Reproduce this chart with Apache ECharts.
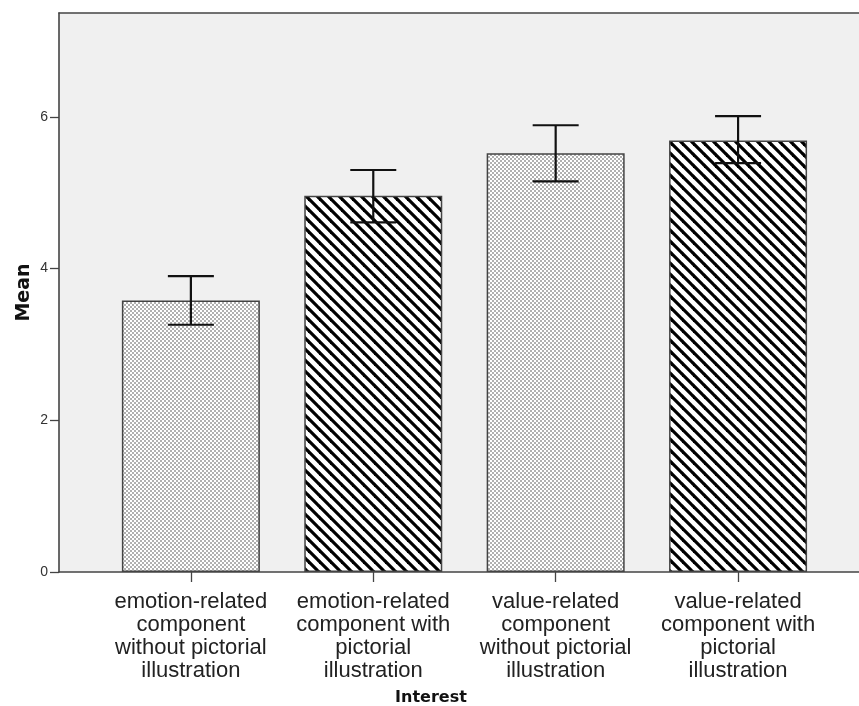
<!DOCTYPE html>
<html>
<head>
<meta charset="utf-8">
<script src="https://cdn.jsdelivr.net/npm/echarts@6/dist/echarts.min.js"></script>
<style>
html,body{margin:0;padding:0;background:#fff;}
#chart{width:859px;height:706px;}
</style>
</head>
<body>
<div id="chart"></div>
<script>
// ---- data ----
var categories = [
  'emotion-related\ncomponent\nwithout pictorial\nillustration',
  'emotion-related\ncomponent with\npictorial\nillustration',
  'value-related\ncomponent\nwithout pictorial\nillustration',
  'value-related\ncomponent with\npictorial\nillustration'
];
var means  = [3.58, 4.96, 5.52, 5.69];
var ciLow  = [3.26, 4.61, 5.15, 5.39];
var ciHigh = [3.90, 5.30, 5.89, 6.01];
var yTicks = [0, 2, 4, 6];
var patternTypes = ['dots', 'stripes', 'dots', 'stripes'];

// ---- patterns ----
function dotPattern() {
  var c = document.createElement('canvas');
  c.width = 4; c.height = 4;
  var g = c.getContext('2d');
  g.fillStyle = '#ffffff'; g.fillRect(0, 0, 4, 4);
  g.fillStyle = '#b0b0b0';
  g.fillRect(0, 0, 2, 2);
  g.fillRect(2, 2, 2, 2);
  return c;
}
function stripePattern() {
  var s = 11;
  var c = document.createElement('canvas');
  c.width = s; c.height = s;
  var g = c.getContext('2d');
  g.fillStyle = '#ffffff'; g.fillRect(0, 0, s, s);
  g.strokeStyle = '#000000';
  g.lineWidth = 3.2;
  [-s, 0, s].forEach(function (k) {
    g.beginPath();
    g.moveTo(k - 1, -1);
    g.lineTo(k + s + 1, s + 1);
    g.stroke();
  });
  return c;
}
var patterns = { dots: dotPattern(), stripes: stripePattern() };

var barData = means.map(function (v, i) {
  return {
    value: [i + 1, v],
    itemStyle: { color: { image: patterns[patternTypes[i]], repeat: 'repeat' } }
  };
});
var errData = means.map(function (v, i) { return [i + 1, ciLow[i], ciHigh[i]]; });

var chart = echarts.init(document.getElementById('chart'), null, { renderer: 'canvas' });
var axisColor = '#444444';
var option = {
  animation: false,
  backgroundColor: '#ffffff',
  grid: {
    left: 59, right: 0, top: 13, bottom: 134,
    outerBoundsMode: 'none',
    containLabel: false,
    show: true, backgroundColor: '#f0f0f0', borderWidth: 0
  },
  xAxis: [{
    type: 'value',
    min: 0.277, max: 4.663,
    splitLine: { show: false },
    axisLine: { show: true, onZero: false, lineStyle: { color: axisColor, width: 1.6 } },
    axisTick: { show: true, length: 10, customValues: [1, 2, 3, 4], lineStyle: { color: axisColor, width: 1.3 } },
    axisLabel: {
      customValues: [1, 2, 3, 4],
      formatter: function (v) { return categories[Math.round(v) - 1] || ''; },
      fontFamily: 'Liberation Sans, Arial, sans-serif',
      fontSize: 22, lineHeight: 23, color: '#222', margin: 18, align: 'center'
    },
    name: 'Interest',
    nameLocation: 'middle',
    nameGap: 118,
    nameMoveOverlap: false,
    nameTextStyle: {
      fontFamily: 'DejaVu Sans, sans-serif', fontWeight: 'bold', fontSize: 16, color: '#111',
      padding: [0, 56, 0, 0]
    }
  }, {
    type: 'value', position: 'top',
    min: 0.277, max: 4.663,
    splitLine: { show: false },
    axisLine: { show: true, onZero: false, lineStyle: { color: axisColor, width: 1.6 } },
    axisTick: { show: false }, axisLabel: { show: false }
  }],
  yAxis: {
    type: 'value',
    min: 0, max: 7.37, interval: 2,
    splitLine: { show: false },
    axisLine: { show: true, onZero: false, lineStyle: { color: axisColor, width: 1.6 } },
    axisTick: { show: true, length: 9, lineStyle: { color: axisColor, width: 1.3 } },
    axisLabel: {
      showMaxLabel: false,
      formatter: function (v) { return yTicks.indexOf(v) >= 0 ? String(v) : ''; },
      fontFamily: 'Liberation Sans, Arial, sans-serif',
      fontSize: 14, color: '#333', margin: 11
    },
    name: 'Mean',
    nameLocation: 'middle',
    nameRotate: 90,
    nameGap: 25,
    nameMoveOverlap: false,
    nameTextStyle: { fontFamily: 'DejaVu Sans, sans-serif', fontWeight: 'bold', fontSize: 19, color: '#111' }
  },
  series: [{
    type: 'bar',
    xAxisIndex: 0,
    barWidth: 138,
    data: barData,
    itemStyle: { borderColor: '#444', borderWidth: 1.5 },
    z: 2
  }, {
    type: 'custom',
    xAxisIndex: 0,
    data: errData,
    z: 5,
    renderItem: function (params, api) {
      var x = api.value(0);
      var lo = api.coord([x, api.value(1)]);
      var hi = api.coord([x, api.value(2)]);
      var half = 23;
      var st = { stroke: '#111', lineWidth: 2.2 };
      return {
        type: 'group',
        children: [
          { type: 'line', shape: { x1: lo[0], y1: lo[1], x2: hi[0], y2: hi[1] }, style: st },
          { type: 'line', shape: { x1: hi[0] - half, y1: hi[1], x2: hi[0] + half, y2: hi[1] }, style: st },
          { type: 'line', shape: { x1: lo[0] - half, y1: lo[1], x2: lo[0] + half, y2: lo[1] }, style: st }
        ]
      };
    }
  }]
};
chart.setOption(option);
</script>
</body>
</html>
